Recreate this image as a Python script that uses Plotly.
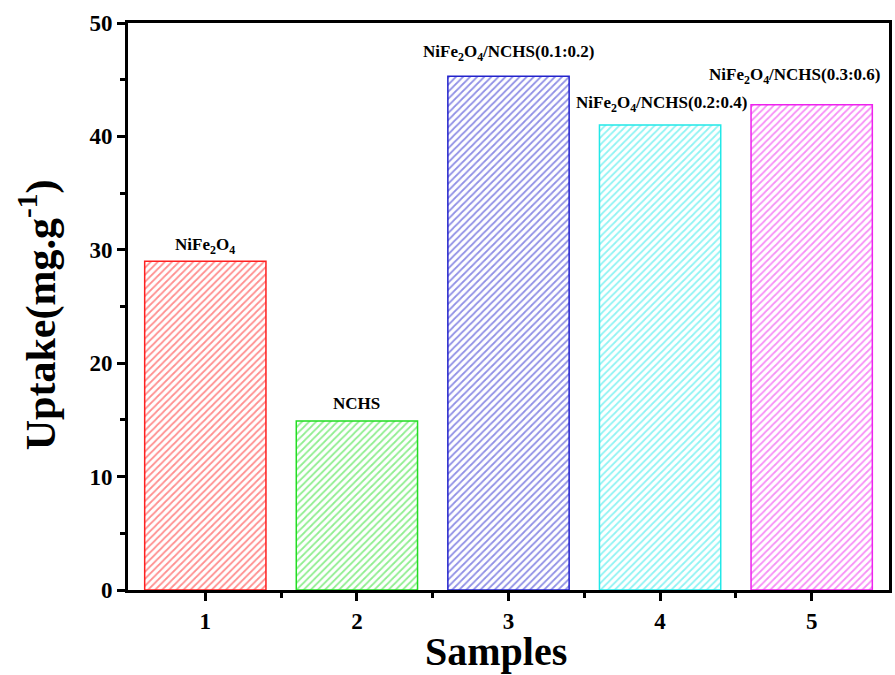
import plotly.graph_objects as go

samples = [1, 2, 3, 4, 5]
uptake = [29.0, 14.9, 45.3, 41.0, 42.8]
labels = ["NiFe<sub>2</sub>O<sub>4</sub>", "NCHS",
          "NiFe<sub>2</sub>O<sub>4</sub>/NCHS(0.1:0.2)",
          "NiFe<sub>2</sub>O<sub>4</sub>/NCHS(0.2:0.4)",
          "NiFe<sub>2</sub>O<sub>4</sub>/NCHS(0.3:0.6)"]
colors = ["#ff2020", "#22dd22", "#2222cc", "#22e8e8", "#ee22ee"]
label_shift = [2, 6, 10, 8, 16]
label_dx = [0, 0, 0, 2, -17]

FONT = "Liberation Serif, Times New Roman, serif"

fig = go.Figure()
fig.add_trace(go.Bar(
    x=samples, y=uptake, width=0.8,
    marker=dict(color="white",
                line=dict(color=colors, width=1.5),
                pattern=dict(shape="/", fgcolor=colors, bgcolor="white",
                             size=5, solidity=0.35, fillmode="overlay")),
    showlegend=False,
))

for s, v, t, sh, dx in zip(samples, uptake, labels, label_shift, label_dx):
    fig.add_annotation(x=s, y=v, text=t, showarrow=False, yanchor="bottom",
                       yshift=sh, xshift=dx,
                       font=dict(family=FONT, size=17, color="black", weight="bold"))

fig.add_annotation(xref="paper", yref="paper", x=0.483, y=-0.108, text="Samples",
                   showarrow=False, xanchor="center", yanchor="middle", borderpad=0,
                   font=dict(family=FONT, size=40, color="black", weight="bold"))
fig.add_annotation(xref="paper", yref="paper", x=-0.118, y=0.485,
                   text="Uptake(mg.g<sup>-1</sup>)", textangle=-90,
                   showarrow=False, xanchor="center", yanchor="middle",
                   font=dict(family=FONT, size=42, color="black", weight="bold"))

axis_common = dict(showline=True, linecolor="black", linewidth=3, mirror=True,
                   ticks="outside", ticklen=8, tickwidth=3, tickcolor="black",
                   showgrid=False, zeroline=False,
                   tickfont=dict(family=FONT, size=23, color="black", weight="bold"))

fig.update_xaxes(range=[0.49, 5.51], tickvals=samples, **axis_common,
                 minor=dict(tickvals=[1.5, 2.5, 3.5, 4.5], ticks="outside",
                            ticklen=5, tickwidth=3, tickcolor="black"))
fig.update_yaxes(range=[0, 50], tickvals=[0, 10, 20, 30, 40, 50], **axis_common,
                 minor=dict(tickvals=[5, 15, 25, 35, 45], ticks="outside",
                            ticklen=5, tickwidth=3, tickcolor="black"))

fig.update_layout(width=895, height=675, plot_bgcolor="white", paper_bgcolor="white",
                  margin=dict(l=128, r=3, t=23, b=85), bargap=0.2)

fig.write_html("out.html")
